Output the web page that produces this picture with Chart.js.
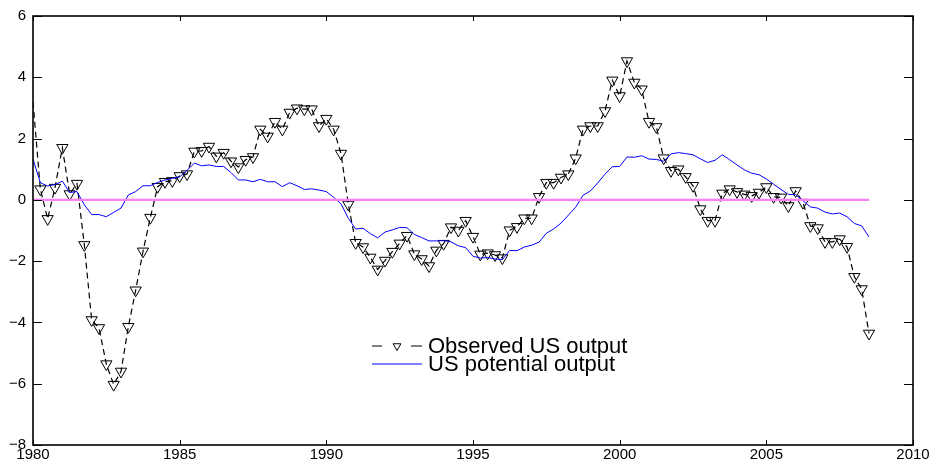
<!DOCTYPE html>
<html lang="en-US">
<head>
<meta charset="utf-8" />
<title>US output gap</title>
<style>
  body { margin: 0; background: #fff; }
  .wrap { position: relative; width: 935px; height: 463px; }
</style>
</head>
<body>
<div class="wrap"><canvas id="chart"></canvas></div>

<script src="https://cdn.jsdelivr.net/npm/chart.js@4.4.0/dist/chart.umd.min.js"></script>
<script>
  // quarterly series, first quarter of 1980 to third quarter of 2008
  const START_YEAR = 1980;

  const observed = [
    3.20, 0.35, -0.62, 0.40, 1.70, 0.19, 0.53, -1.47,
    -3.92, -4.18, -5.36, -6.03, -5.60, -4.14, -2.95, -1.68,
    -0.58, 0.43, 0.59, 0.62, 0.78, 0.84, 1.58, 1.60,
    1.74, 1.42, 1.54, 1.26, 1.07, 1.31, 1.40, 2.30,
    2.07, 2.55, 2.30, 2.85, 2.99, 2.96, 2.96, 2.41,
    2.65, 2.30, 1.51, -0.15, -1.40, -1.54, -1.88, -2.27,
    -1.98, -1.69, -1.42, -1.17, -1.77, -1.93, -2.16, -1.65,
    -1.43, -0.89, -1.00, -0.68, -1.20, -1.78, -1.74, -1.80,
    -1.90, -0.99, -0.88, -0.60, -0.60, 0.10, 0.56, 0.56,
    0.73, 0.84, 1.36, 2.30, 2.41, 2.41, 2.90, 3.90,
    3.39, 4.53, 3.83, 3.61, 2.55, 2.38, 1.36, 0.95,
    1.00, 0.75, 0.46, -0.30, -0.68, -0.68, 0.21, 0.35,
    0.26, 0.18, 0.13, 0.24, 0.42, 0.10, 0.08, -0.20,
    0.29, -0.09, -0.85, -0.92, -1.37, -1.37, -1.28, -1.53,
    -2.51, -2.91, -4.36
  ];

  const potential = [
    1.33, 0.56, 0.45, 0.50, 0.61, 0.24, 0.27, -0.16,
    -0.48, -0.48, -0.55, -0.41, -0.27, 0.16, 0.27, 0.46,
    0.46, 0.57, 0.65, 0.70, 0.75, 0.96, 1.20, 1.11,
    1.14, 1.09, 1.09, 0.89, 0.65, 0.65, 0.59, 0.67,
    0.59, 0.59, 0.43, 0.56, 0.46, 0.34, 0.36, 0.32,
    0.27, 0.08, -0.13, -0.60, -0.95, -0.93, -1.10, -1.24,
    -1.05, -0.98, -0.90, -0.91, -1.13, -1.23, -1.34, -1.34,
    -1.33, -1.37, -1.50, -1.56, -1.84, -1.90, -1.88, -1.93,
    -1.95, -1.65, -1.66, -1.54, -1.48, -1.38, -1.09, -0.95,
    -0.76, -0.50, -0.24, 0.15, 0.29, 0.55, 0.84, 1.08,
    1.09, 1.40, 1.39, 1.44, 1.33, 1.32, 1.26, 1.50,
    1.54, 1.51, 1.47, 1.34, 1.22, 1.29, 1.47, 1.31,
    1.14, 0.98, 0.87, 0.82, 0.68, 0.51, 0.34, 0.18,
    0.17, -0.03, -0.23, -0.27, -0.40, -0.46, -0.43, -0.55,
    -0.77, -0.85, -1.21
  ];

  // reference line at zero over the sample span
  const zeroYears = [1980, 2008.5];
  const zeroLevel = [0, 0];

  const xTicks = [1980, 1985, 1990, 1995, 2000, 2005, 2010];
  const yTicks = [-8, -6, -4, -2, 0, 2, 4, 6];

  const quarters = observed.map((v, i) => START_YEAR + i / 4);
  const toPoints = (xs, ys) => ys.map((v, i) => ({ x: xs[i], y: v }));

  const FONT = 'Liberation Sans, Arial, Helvetica, sans-serif';

  // closed box with inward ticks on all four sides
  const boxAxes = {
    id: 'boxAxes',
    afterDatasetsDraw(chart) {
      const { ctx, chartArea: a, scales: { x, y } } = chart;
      ctx.save();
      ctx.strokeStyle = '#000';
      ctx.lineWidth = 1;
      ctx.beginPath();
      x.ticks.forEach(t => {
        const px = Math.round(x.getPixelForValue(t.value)) + 0.5;
        ctx.moveTo(px, a.bottom); ctx.lineTo(px, a.bottom - 5);
        ctx.moveTo(px, a.top); ctx.lineTo(px, a.top + 5);
      });
      y.ticks.forEach(t => {
        const py = Math.round(y.getPixelForValue(t.value)) + 0.5;
        ctx.moveTo(a.left, py); ctx.lineTo(a.left + 9, py);
        ctx.moveTo(a.right, py); ctx.lineTo(a.right - 9, py);
      });
      ctx.stroke();
      ctx.lineWidth = 1.6;
      ctx.strokeRect(a.left, a.top, a.right - a.left, a.bottom - a.top);
      ctx.restore();
    }
  };

  // legend inside the plot, no frame
  const innerLegend = {
    id: 'innerLegend',
    afterDraw(chart) {
      const { ctx } = chart;
      const items = chart.data.datasets.filter(d => d.label);
      const x0 = 372, x1 = 422, textX = 428;
      let rowY = 346;
      ctx.save();
      ctx.font = '22px ' + FONT;
      ctx.textBaseline = 'middle';
      items.forEach(d => {
        ctx.strokeStyle = d.borderColor;
        ctx.lineWidth = d.borderWidth;
        ctx.beginPath();
        if (d.legendMarker) {
          // short dash, marker, short dash
          ctx.moveTo(x0, rowY); ctx.lineTo(x0 + 10, rowY);
          ctx.moveTo(x1 - 11, rowY); ctx.lineTo(x1, rowY);
        } else {
          ctx.moveTo(x0, rowY); ctx.lineTo(x1, rowY);
        }
        ctx.stroke();
        if (d.legendMarker) {
          ctx.fillStyle = 'rgba(0,0,0,0)';
          ctx.strokeStyle = '#000';
          ctx.lineWidth = 1;
          Chart.helpers.drawPoint(ctx, {
            pointStyle: 'triangle', rotation: 180, radius: 4.5, borderWidth: 1
          }, (x0 + x1) / 2, rowY);
        }
        ctx.fillStyle = '#000';
        ctx.fillText(d.label, textX, rowY + 1);
        rowY += 18;
      });
      ctx.restore();
    }
  };

  new Chart(document.getElementById('chart'), {
    type: 'line',
    data: {
      datasets: [
        {
          label: 'Observed US output',
          data: toPoints(quarters, observed),
          borderColor: '#000',
          borderWidth: 1.2,
          borderDash: [6, 4],
          pointStyle: 'triangle',
          rotation: 180,
          pointRadius: ctx => ctx.dataIndex === 0 ? 0 : 6.5,
          pointBorderColor: '#000',
          pointBackgroundColor: 'rgba(0,0,0,0)',
          pointBorderWidth: 1,
          legendMarker: true,
          order: 2
        },
        {
          label: 'US potential output',
          data: toPoints(quarters, potential),
          borderColor: '#0000ff',
          borderWidth: 1,
          pointRadius: 0,
          order: 1
        },
        {
          data: toPoints(zeroYears, zeroLevel),
          borderColor: 'rgb(248,128,248)',
          borderWidth: 2.2,
          pointRadius: 0,
          order: 0
        }
      ]
    },
    options: {
      animation: false,
      responsive: true,
      maintainAspectRatio: false,
      layout: { padding: { top: 14, right: 22, left: 0, bottom: 0 } },
      plugins: { legend: { display: false }, tooltip: { enabled: false } },
      scales: {
        x: {
          type: 'linear',
          min: 1980,
          max: 2010,
          afterBuildTicks: s => { s.ticks = xTicks.map(v => ({ value: v })); },
          afterFit: s => { s.height = 18; },
          grid: { display: false, drawTicks: false },
          border: { display: false },
          ticks: {
            padding: 1,
            color: '#000',
            font: { family: FONT, size: 15 },
            maxRotation: 0,
            callback: v => String(v)
          }
        },
        y: {
          min: -8,
          max: 6,
          afterBuildTicks: s => { s.ticks = yTicks.map(v => ({ value: v })); },
          afterFit: s => { s.width = 33; },
          grid: { display: false, drawTicks: false },
          border: { display: false },
          ticks: {
            padding: 7,
            color: '#000',
            font: { family: FONT, size: 15 },
            callback: v => v < 0 ? '\u2212' + Math.abs(v) : String(v)
          }
        }
      }
    },
    plugins: [boxAxes, innerLegend]
  });
</script>
</body>
</html>
